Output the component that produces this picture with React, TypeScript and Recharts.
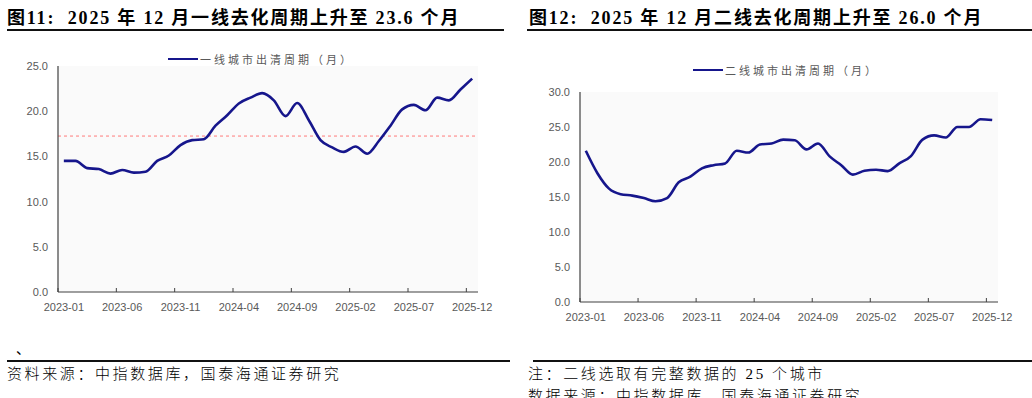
// App.tsx — 一线/二线城市去化周期（月），2023-01 至 2025-12
import { LineChart, Line, XAxis, YAxis, CartesianGrid, ReferenceLine } from 'recharts';

const months = [
  '2023-01', '2023-02', '2023-03', '2023-04', '2023-05', '2023-06', '2023-07', '2023-08', '2023-09', '2023-10', '2023-11', '2023-12',
  '2024-01', '2024-02', '2024-03', '2024-04', '2024-05', '2024-06', '2024-07', '2024-08', '2024-09', '2024-10', '2024-11', '2024-12',
  '2025-01', '2025-02', '2025-03', '2025-04', '2025-05', '2025-06', '2025-07', '2025-08', '2025-09', '2025-10', '2025-11', '2025-12',
];

const tickIdx = [0, 5, 10, 15, 20, 25, 30, 35];

const tier1 = [
  14.5, 14.5, 13.7, 13.6, 13.1, 13.5, 13.2, 13.3, 14.5, 15.1, 16.25, 16.8,
  16.9, 18.4, 19.55, 20.85, 21.5, 22.0, 21.2, 19.45, 20.9, 19.0, 16.8, 16.0,
  15.5, 16.1, 15.3, 16.7, 18.4, 20.2, 20.7, 20.1, 21.5, 21.2, 22.4, 23.6,
];
const tier1Avg = 17.25;

const tier2 = [
  21.6, 18.4, 16.2, 15.4, 15.2, 14.85, 14.4, 14.85, 17.1, 17.9, 19.1, 19.55,
  19.8, 21.6, 21.35, 22.5, 22.65, 23.2, 23.1, 21.8, 22.65, 20.8, 19.55, 18.2,
  18.75, 18.9, 18.7, 19.8, 20.85, 23.2, 23.8, 23.5, 25.0, 25.0, 26.1, 26.0,
];

const tier1Ticks = [0, 5, 10, 15, 20, 25];
const tier2Ticks = [0, 5, 10, 15, 20, 25, 30];

const data1 = months.map((m, i) => ({ idx: i, month: m, value: tier1[i] }));
const data2 = months.map((m, i) => ({ idx: i, month: m, value: tier2[i] }));

const LINE = '#16168c';
const AXIS = '#404040';
const TXT = '#595959';
const NUM_FONT = "'Liberation Sans', Arial, sans-serif";
const CJK_FONT = "'Noto Sans CJK SC', sans-serif";

// tick labels sit on the month, tick marks sit between months (excel style)
const MonthTick = ({ x, y, payload, half }: any) => (
  <g>
    <line x1={x - half} x2={x - half} y1={y - 4} y2={y} stroke={AXIS} strokeWidth={1} />
    <text x={x} y={y + 19} textAnchor="middle" fill={TXT} fontSize={11} fontFamily={NUM_FONT}>
      {months[payload.value]}
    </text>
  </g>
);

const LegendItem = ({ label, left, top }: { label: string; left: number; top: number }) => (
  <div style={{ position: 'absolute', left, top, display: 'flex', alignItems: 'center', height: 16 }}>
    <span style={{ display: 'inline-block', width: 30, height: 2.5, background: LINE, marginRight: 2 }} />
    <span style={{ fontFamily: CJK_FONT, fontSize: 11, color: TXT, letterSpacing: 3, lineHeight: '16px' }}>{label}</span>
  </div>
);

interface PanelProps {
  data: any[];
  ticks: number[];
  max: number;
  height: number;
  top: number;
  yWidth: number;
  avg?: number;
}

function Panel({ data, ticks, max, height, top, yWidth, avg }: PanelProps) {
  const width = 500;
  const right = 22;
  const half = (width - right - yWidth) / 36 / 2;
  return (
    <LineChart width={width} height={height} data={data} margin={{ top, right, left: 0, bottom: 8 }}>
      <CartesianGrid horizontal={false} vertical={false} fill="#fafafa" />
      <XAxis
        dataKey="idx"
        type="number"
        domain={[-0.5, 35.5]}
        ticks={tickIdx}
        interval={0}
        height={20}
        tickSize={0}
        tickMargin={0}
        axisLine={{ stroke: AXIS, strokeWidth: 1.2 }}
        tickLine={false}
        tick={<MonthTick half={half} />}
      />
      <YAxis
        width={yWidth}
        domain={[0, max]}
        ticks={ticks}
        interval={0}
        tickSize={0}
        tickMargin={10}
        tickFormatter={(v: number) => v.toFixed(1)}
        axisLine={{ stroke: AXIS, strokeWidth: 1.2 }}
        tickLine={false}
        tick={{ fill: TXT, fontSize: 11, fontFamily: NUM_FONT }}
      />
      {avg !== undefined && (
        <ReferenceLine y={avg} stroke="#ff7b7b" strokeDasharray="3 3" strokeWidth={1} />
      )}
      <Line
        type="monotone"
        dataKey="value"
        stroke={LINE}
        strokeWidth={2.6}
        dot={false}
        isAnimationActive={false}
      />
    </LineChart>
  );
}

const titleStyle: React.CSSProperties = {
  position: 'absolute',
  top: 3,
  fontFamily: "'Liberation Serif', 'Noto Sans CJK SC', serif",
  fontWeight: 700,
  fontSize: 18,
  letterSpacing: 1.8,
  color: '#000',
  whiteSpace: 'nowrap',
};

const footStyle: React.CSSProperties = {
  position: 'absolute',
  fontFamily: "'Liberation Serif', 'Noto Sans CJK SC', serif",
  fontSize: 15,
  letterSpacing: 2.6,
  color: '#000',
  whiteSpace: 'nowrap',
  fontWeight: 300,
};

const rule = (left: number, top: number, width: number): React.CSSProperties => ({
  position: 'absolute', left, top, width, height: 1.6, background: '#111',
});

export default function App() {
  return (
    <div style={{ position: 'absolute', left: 0, top: 0, width: 1032, height: 398, overflow: 'hidden', background: '#fff' }}>
      <div style={{ ...titleStyle, left: 7 }}>图11:&nbsp; 2025 年 12 月一线去化周期上升至 23.6 个月</div>
      <div style={rule(7, 29, 497)} />
      <div style={{ ...titleStyle, left: 529 }}>图12:&nbsp; 2025 年 12 月二线去化周期上升至 26.0 个月</div>
      <div style={rule(527, 29, 505)} />

      <div style={{ position: 'absolute', left: 0, top: 0 }}>
        <Panel data={data1} ticks={tier1Ticks} max={25} height={320} top={66} yWidth={58} avg={tier1Avg} />
      </div>
      <LegendItem label="一线城市出清周期（月）" left={168} top={51} />

      <div style={{ position: 'absolute', left: 520, top: 0 }}>
        <Panel data={data2} ticks={tier2Ticks} max={30} height={330} top={92} yWidth={60} />
      </div>
      <LegendItem label="二线城市出清周期（月）" left={693} top={62} />

      <div style={{ position: 'absolute', left: 16, top: 338, fontSize: 14, fontFamily: CJK_FONT }}>、</div>
      <div style={rule(7, 360, 503)} />
      <div style={rule(533, 360, 499)} />
      <div style={{ ...footStyle, left: 7, top: 362 }}>资料来源：中指数据库，国泰海通证券研究</div>
      <div style={{ ...footStyle, left: 528, top: 362 }}>注：二线选取有完整数据的 25 个城市</div>
      <div style={{ ...footStyle, left: 528, top: 384 }}>数据来源：中指数据库，国泰海通证券研究</div>
    </div>
  );
}
